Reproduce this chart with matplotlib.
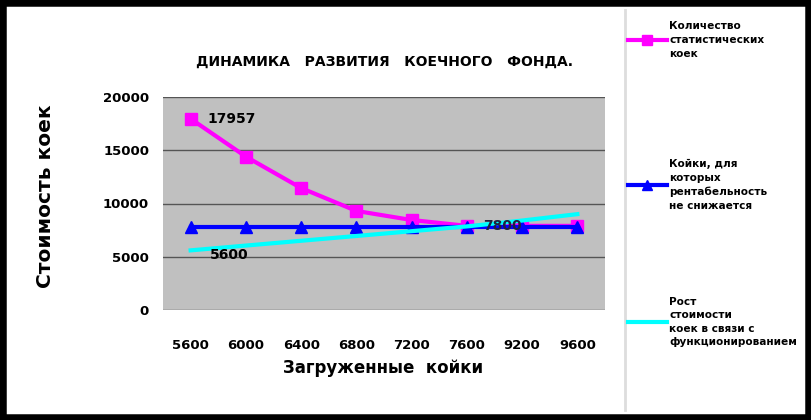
import matplotlib.pyplot as plt
from matplotlib.lines import Line2D
from matplotlib.patches import Rectangle
import numpy as np

plt.rcParams.update({
    'font.family': ['DejaVu Sans'],
    'font.weight': 'bold',
})

# categories (x) and series
beds_loaded = ['5600', '6000', '6400', '6800', '7200', '7600', '9200', '9600']
stat_beds = [17957, 14400, 11450, 9300, 8450, 7900, 7900, 7900]
profitable_beds = [7750, 7750, 7750, 7750, 7750, 7750, 7750, 7750]
cost_growth = [5600, 6050, 6500, 6950, 7400, 7850, 8400, 9000]

legend_labels = ['Количество\nстатистических\nкоек',
                 'Койки, для\nкоторых\nрентабельность\nне снижается',
                 'Рост\nстоимости\nкоек в связи с\nфункционированием']

W, H = 811, 420
fig = plt.figure(figsize=(W / 100, H / 100), dpi=100)
fig.patch.set_facecolor('white')

# outer dark frame
fig.patches.append(Rectangle((0, 0), 1, 1, transform=fig.transFigure,
                             fill=False, edgecolor='black', linewidth=9))

ax = fig.add_axes([163 / W, (H - 310) / H, 442 / W, 213 / H])
ax.set_facecolor('#c0c0c0')
x = np.arange(len(beds_loaded))

ax.plot(x, stat_beds, color='#ff00ff', lw=3, marker='s', markersize=9, zorder=3)
ax.plot(x, profitable_beds, color='#0000ff', lw=3, marker='^', markersize=8, zorder=3)
ax.plot(x, cost_growth, color='#00ffff', lw=3, zorder=4)

ax.set_xlim(-0.5, len(x) - 0.5)
ax.set_ylim(0, 20000)
ax.set_yticks([0, 5000, 10000, 15000, 20000])
ax.set_xticks(x)
ax.set_xticklabels(beds_loaded)
ax.yaxis.grid(True, color='#555555', lw=1)
ax.set_axisbelow(True)
for s in ax.spines.values():
    s.set_visible(False)
ax.tick_params(axis='both', length=0, labelsize=9.5)
ax.tick_params(axis='x', pad=21)
ax.tick_params(axis='y', pad=10)

# data labels
ax.annotate(str(stat_beds[0]), (x[0], stat_beds[0]), xytext=(12, 0),
            textcoords='offset points', va='center', fontsize=10, zorder=6)
ax.annotate(str(cost_growth[0]), (x[0], cost_growth[0]), xytext=(14, -3),
            textcoords='offset points', va='center', fontsize=10, zorder=6)
ax.annotate('7800', (x[6], profitable_beds[6]), xytext=(-14, 1),
            textcoords='offset points', va='center', ha='center', fontsize=10,
            color='#202040', zorder=6)

fig.text(384 / W, 1 - 62 / H, 'ДИНАМИКА   РАЗВИТИЯ   КОЕЧНОГО   ФОНДА.',
         ha='center', va='center', fontsize=10, fontweight='bold')
fig.text(383 / W, 1 - 368 / H, 'Загруженные  койки', ha='center', va='center',
         fontsize=12, fontweight='bold')
fig.text(46 / W, 1 - 196 / H, 'Стоимость коек', ha='center', va='center',
         rotation=90, fontsize=14.5, fontweight='bold')

# legend panel on the right
fig.lines.append(Line2D([625 / W, 625 / W], [10 / H, 1 - 10 / H],
                        transform=fig.transFigure, color='#dddddd', lw=2))
colors = ['#ff00ff', '#0000ff', '#00ffff']
markers = ['s', '^', '']
ys = [40, 185, 322]
for lab, c, m, yy in zip(legend_labels, colors, markers, ys):
    yf = 1 - yy / H
    fig.lines.append(Line2D([628 / W, 647 / W, 667 / W], [yf, yf, yf],
                            transform=fig.transFigure, color=c, lw=3,
                            marker=m, markersize=7,
                            markevery=[1] if m else None))
    fig.text(669 / W, yf, lab, ha='left', va='center', fontsize=7.6,
             fontweight='bold', linespacing=1.45)

fig.savefig('out.png', dpi=100)
